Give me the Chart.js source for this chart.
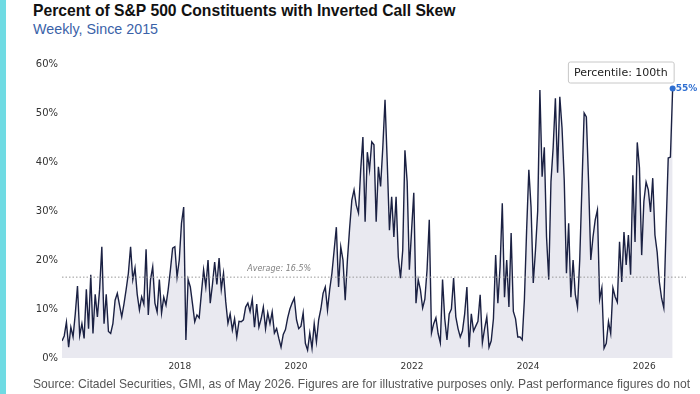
<!DOCTYPE html>
<html lang="en">
<head>
<meta charset="UTF-8">
<script src="https://cdn.jsdelivr.net/npm/chart.js"></script>
<title>Inverted Call Skew</title>
<style>
  body { margin:0; width:700px; height:394px; overflow:hidden; background:#fff; position:relative; font-family:"Liberation Sans", Arial, sans-serif; }
  #bar { position:absolute; left:0; top:0; width:6px; height:394px; background:#6fdbe3; }
  #title { position:absolute; left:33px; top:2px; font-size:15.7px; font-weight:bold; color:#111; white-space:nowrap; }
  #sub { position:absolute; left:33px; top:21px; font-size:14.3px; color:#3a62a8; white-space:nowrap; }
  #src { position:absolute; left:33px; top:377px; font-size:12.1px; color:#555; white-space:nowrap; }
  canvas { position:absolute; left:0; top:0; }
</style>
</head>
<body>
<div id="bar"></div>
<div id="title">Percent of S&amp;P 500 Constituents with Inverted Call Skew</div>
<div id="sub">Weekly, Since 2015</div>
<canvas id="myChart" width="700" height="394"></canvas>
<div id="src">Source: Citadel Securities, GMI, as of May 2026. Figures are for illustrative purposes only. Past performance figures do not</div>
<script>
// share of constituents with inverted call skew, %, roughly every 2 weeks
const skewPct = [
  3.5, 4.5, 7.3, 2.2, 6.3, 4.3, 9, 14.7, 4.6, 7, 4, 14, 6, 17, 5, 13, 8.4, 14, 22.7, 7, 13, 5.4, 5, 7, 11.8, 13.2,
  10.8, 8.4, 11, 14, 17.3, 22.7, 16, 18.4, 13, 9.8, 12.5, 11, 22.2, 8.8, 16, 18.6, 11.2, 9.4, 16, 9.2, 12.4, 10.8, 14, 18, 22.4, 22.7, 16.5,
  20, 27.5, 30.8, 3.7, 16, 14.5, 11, 7.4, 8.8, 8.2, 13.2, 18, 14.5, 20, 11.2, 15, 19.6, 15, 20.4, 14, 17.3, 11.5, 7.1, 9, 5.7, 8, 4.3, 7.5,
  7.4, 7.8, 10.4, 11.2, 9.5, 12, 6.3, 11, 6.3, 8, 10.4, 6, 9.2, 7, 9.4, 5.1, 6, 4, 2.2, 4.8, 5.8, 8.2, 10, 11.2, 12.2, 7.8, 6,
  6.5, 9.2, 3, 1.6, 5.1, 2, 7, 3.3, 7.8, 10, 13.2, 14.5, 9.8, 14, 17.3, 22, 26.7, 14.5, 22.7, 20, 11.8, 20, 26.5, 32.2, 34.3, 31.2, 29.6,
  38.4, 45.1, 27.8, 42, 38.4, 44.1, 43.5, 27.8, 39, 35, 43, 52.7, 40, 26.1, 32.9, 24.7, 32.9, 20.6, 16.3, 22, 42.4, 36, 18, 26, 33.7, 11.2, 16,
  13.9, 10.2, 12, 18, 28.2, 5.1, 7, 8.2, 5, 3.1, 16, 8, 3.7, 9, 10, 16.3, 8.4, 6, 4.3, 5.5, 9, 14.5, 2.2, 9, 5.5, 6.5, 7.5,
  12.9, 3.1, 6, 8.4, 2.2, 3.5, 8, 21, 11.2, 18.6, 31.6, 12.4, 20, 10.4, 25.5, 9.5, 8, 4.3, 4.3, 3.7, 12, 26.1, 38.4, 30.8, 15.3, 22, 30,
  54.7, 37, 43, 24.7, 16, 36, 43, 53, 37.8, 53.3, 47, 36.3, 17.3, 27.5, 12.4, 20, 13, 10.4, 20, 35, 50, 49.2, 36, 20, 24.7, 28.2, 30.2,
  12, 14.3, 2, 3, 7.4, 5, 14.3, 12.5, 11.4, 23.7, 15.5, 25.7, 19, 25.1, 17, 37.3, 23.7, 44, 38.8, 21, 32, 35.9, 34.3, 29.8, 36.7, 25.1, 21.6, 15.5, 12.2, 10.2,
  26, 40.8, 41, 55
];
const firstWeek = 2015.97;   // decimal year of first observation
const lastWeek = 2026.49;    // decimal year of latest observation
const yearTicks = [2018, 2020, 2022, 2024, 2026];
const pctTicks = [0, 10, 20, 30, 40, 50, 60];
const average = 16.5;
const averageLabelAt = 2019.16;
const percentileText = 'Percentile: 100th';

const n = skewPct.length;
const points = skewPct.map((v, i) => ({ x: firstWeek + i * (lastWeek - firstWeek) / (n - 1), y: v }));

const extras = {
  id: 'extras',
  afterDatasetsDraw(chart) {
    const { ctx, chartArea, scales: { x, y } } = chart;
    const ya = y.getPixelForValue(average);
    ctx.save();
    // average line
    ctx.strokeStyle = '#999999';
    ctx.lineWidth = 1;
    ctx.setLineDash([1.5, 2]);
    ctx.beginPath();
    ctx.moveTo(chartArea.left, ya);
    ctx.lineTo(chartArea.right, ya);
    ctx.stroke();
    ctx.setLineDash([]);
    ctx.font = 'italic 8px "DejaVu Sans"';
    ctx.fillStyle = '#808080';
    ctx.textBaseline = 'alphabetic';
    ctx.fillText('Average: ' + average + '%', x.getPixelForValue(averageLabelAt), ya - 6);

    // latest value label
    const meta = chart.getDatasetMeta(0);
    const p = meta.data[meta.data.length - 1];
    ctx.font = 'bold 9px "DejaVu Sans"';
    ctx.fillStyle = '#2f6fd1';
    ctx.textBaseline = 'middle';
    ctx.fillText(Math.round(skewPct[n - 1]) + '%', p.x + 3, p.y);

    // percentile box
    ctx.font = '11px "DejaVu Sans"';
    const tw = ctx.measureText(percentileText).width;
    const bw = tw + 12, bh = 21;
    const bx = p.x + 1 - bw, by = p.y - 6 - bh;
    ctx.fillStyle = '#ffffff';
    ctx.strokeStyle = '#c8c8c8';
    ctx.beginPath();
    ctx.roundRect(bx + 0.5, by + 0.5, bw, bh, 2);
    ctx.fill();
    ctx.stroke();
    ctx.fillStyle = '#222';
    ctx.textBaseline = 'middle';
    ctx.fillText(percentileText, bx + 6, by + bh / 2 + 1);
    ctx.restore();
  }
};

new Chart(document.getElementById('myChart'), {
  type: 'line',
  data: {
    datasets: [{
      data: points,
      borderColor: '#1b2143',
      borderWidth: 1.4,
      fill: 'origin',
      backgroundColor: '#e9e9f0',
      tension: 0,
      pointRadius: ctx => ctx.dataIndex === n - 1 ? 3 : 0,
      pointBackgroundColor: '#2f6fd1',
      pointBorderWidth: 0
    }]
  },
  options: {
    responsive: false,
    animation: false,
    layout: { padding: { left: 0, right: 14, top: 64, bottom: 0 } },
    plugins: { legend: { display: false }, tooltip: { enabled: false } },
    scales: {
      x: {
        type: 'linear',
        min: 2015.97,
        max: 2026.72,
        grid: { display: false, drawTicks: false },
        border: { display: false },
        afterBuildTicks: s => { s.ticks = yearTicks.map(v => ({ value: v })); },
        afterFit: s => { s.height = 36; },
        ticks: { font: { family: 'DejaVu Sans', size: 9 }, color: '#333', padding: 3, callback: v => String(v) }
      },
      y: {
        min: 0,
        max: 60,
        grid: { display: false, drawTicks: false },
        border: { display: false },
        afterBuildTicks: s => { s.ticks = pctTicks.map(v => ({ value: v })); },
        afterFit: s => { s.width = 62; },
        ticks: { font: { family: 'DejaVu Sans', size: 10 }, color: '#333', padding: 4, callback: v => v + '%' }
      }
    }
  },
  plugins: [extras]
});
</script>
</body>
</html>
